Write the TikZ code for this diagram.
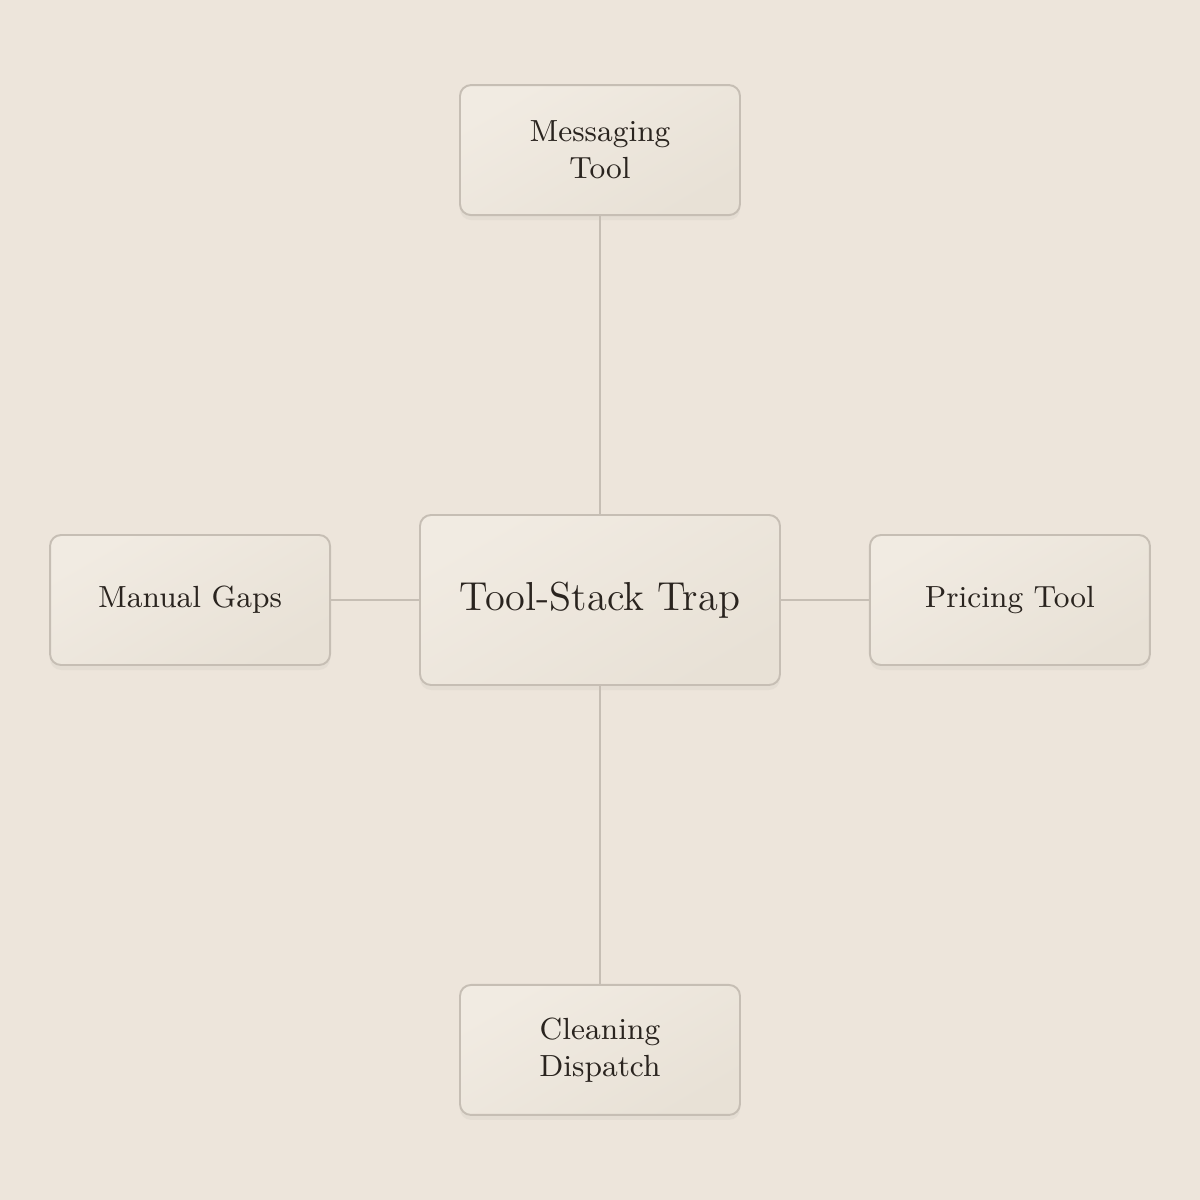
\documentclass[tikz,border=0pt]{standalone}
\usetikzlibrary{positioning,shadows}

\definecolor{paper}{HTML}{EDE5DB}
\definecolor{boxtop}{HTML}{F1EBE2}
\definecolor{boxbot}{HTML}{E8E1D6}
\definecolor{rim}{HTML}{C6BEB4}
\definecolor{ink}{HTML}{2A241F}

\begin{document}
\begin{tikzpicture}[-,shorten >=0pt,node distance=3cm,
                    line width=0.45pt, draw=rim]
	  \tikzstyle{tool}=[draw=rim,line width=0.55pt,rounded corners=0.11cm,
	                    top color=boxtop,bottom color=boxbot,shading angle=30,
	                    text=ink,align=center,font=\fontsize{8.7}{10.5}\selectfont,
	                    minimum width=2.8cm,minimum height=1.3cm,inner sep=0pt,
	                    drop shadow={opacity=0.08,shadow xshift=0cm,shadow yshift=-0.05cm}]
	  \tikzstyle{hub}=[tool,minimum width=3.6cm,minimum height=1.7cm,
	                   font=\fontsize{11.5}{13}\selectfont]

	  % canvas
	  \fill[paper] (-6,-6) rectangle (6,6);
	  \useasboundingbox (-6,-6) rectangle (6,6);

	  \node[hub]   (trap)                         {Tool-Stack Trap};
	  \node[tool]  (msg)   [above=2.98cm of trap]  {Messaging\\Tool};
	  \node[tool]  (clean) [below=2.98cm of trap]  {Cleaning\\Dispatch};
	  \node[tool]  (gaps)  [left=0.88cm of trap]   {Manual Gaps};
	  \node[tool]  (price) [right=0.88cm of trap]  {Pricing Tool};

	  \path[draw=rim] (trap) edge (msg)
	        (trap) edge (clean)
	        (trap) edge (gaps)
	        (trap) edge (price);
\end{tikzpicture}
\end{document}
